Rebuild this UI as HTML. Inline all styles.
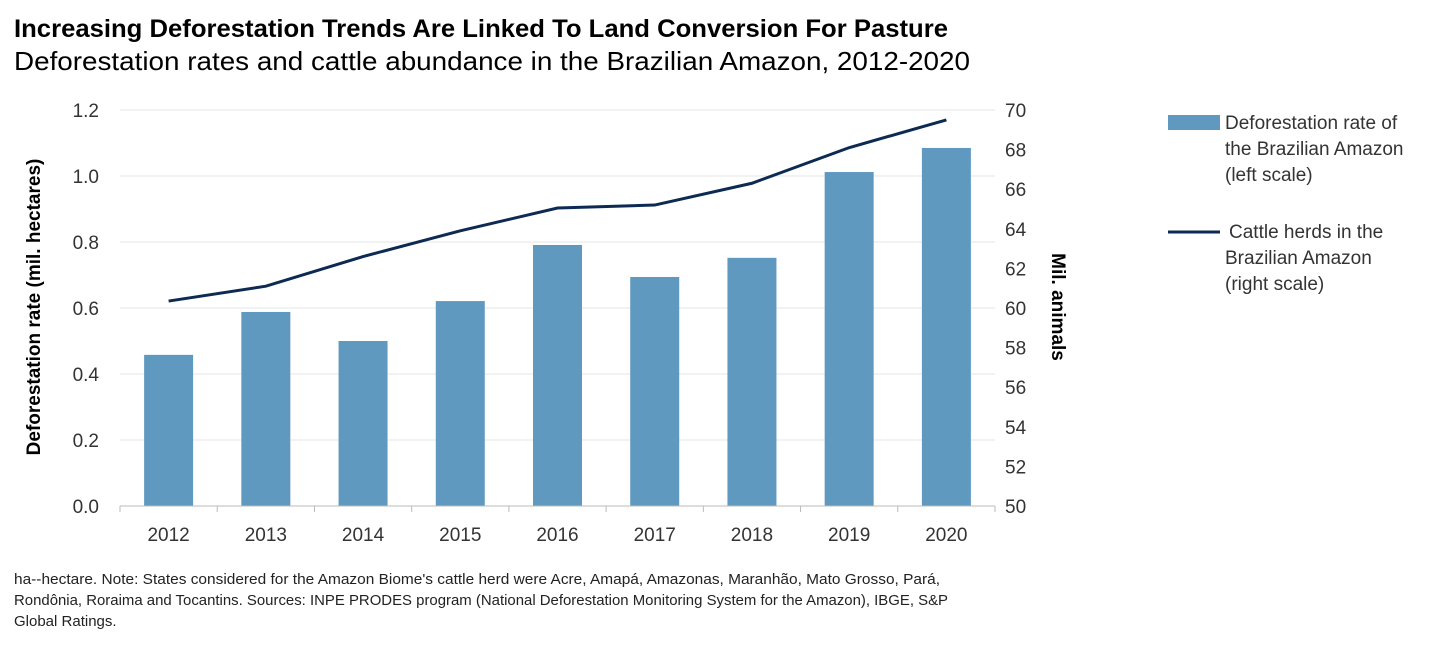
<!DOCTYPE html>
<html><head><meta charset="utf-8"><style>
body{margin:0;background:#fff;font-family:"Liberation Sans",sans-serif;}
svg text{font-family:"Liberation Sans",sans-serif;}
</style></head><body>
<svg id="c" width="1454" height="640" xmlns="http://www.w3.org/2000/svg">
<text x="14" y="37" font-size="25" font-weight="bold" fill="#000" textLength="934" lengthAdjust="spacingAndGlyphs">Increasing Deforestation Trends Are Linked To Land Conversion For Pasture</text>
<text x="14" y="70" font-size="26" fill="#000" textLength="956" lengthAdjust="spacingAndGlyphs">Deforestation rates and cattle abundance in the Brazilian Amazon, 2012-2020</text>
<g id="grid"></g>
<g id="bars"></g>
<g id="line"></g>
<g id="axes"></g>
<text transform="translate(40,307) rotate(-90)" text-anchor="middle" font-size="19" font-weight="bold">Deforestation rate (mil. hectares)</text>
<text transform="translate(1052,307) rotate(90)" text-anchor="middle" font-size="19" font-weight="bold">Mil. animals</text>
<g>
<rect x="1168" y="115" width="52" height="15" fill="#6099c0"/>
<text x="1225" y="129" font-size="19" fill="#333"><tspan x="1225">Deforestation rate of</tspan><tspan x="1225" dy="26">the Brazilian Amazon</tspan><tspan x="1225" dy="26">(left scale)</tspan></text>
<line x1="1168" y1="232" x2="1220" y2="232" stroke="#0d2a52" stroke-width="3"/>
<text x="1225" y="238" font-size="19" fill="#333"><tspan x="1229">Cattle herds in the</tspan><tspan x="1225" dy="26">Brazilian Amazon</tspan><tspan x="1225" dy="26">(right scale)</tspan></text>
</g>
<g font-size="15" fill="#222">
<text x="14" y="584" textLength="926" lengthAdjust="spacingAndGlyphs">ha--hectare. Note: States considered for the Amazon Biome's cattle herd were Acre, Amapá, Amazonas, Maranhão, Mato Grosso, Pará,</text>
<text x="14" y="605" textLength="934" lengthAdjust="spacingAndGlyphs">Rondônia, Roraima and Tocantins. Sources: INPE PRODES program (National Deforestation Monitoring System for the Amazon), IBGE, S&amp;P</text>
<text x="14" y="626">Global Ratings.</text>
</g>
</svg>
<script>
const years=["2012","2013","2014","2015","2016","2017","2018","2019","2020"];
const deforestation=[0.458,0.588,0.50,0.621,0.791,0.694,0.752,1.012,1.085];
const cattle=[60.35,61.1,62.6,63.9,65.05,65.2,66.3,68.1,69.5];
const leftTicks=[0,0.2,0.4,0.6,0.8,1.0,1.2];
const rightTicks=[50,52,54,56,58,60,62,64,66,68,70];
const NS="http://www.w3.org/2000/svg";
const X0=120,X1=995,Y0=506,Y1=110;
const bw=(X1-X0)/years.length;
const xc=i=>X0+bw*(i+0.5);
const yL=v=>Y0-(v-0)/(1.2-0)*(Y0-Y1);
const yR=v=>Y0-(v-50)/(70-50)*(Y0-Y1);
function mk(t,a,p){const e=document.createElementNS(NS,t);for(const k in a)e.setAttribute(k,a[k]);p.appendChild(e);return e;}
const grid=document.getElementById('grid'),bars=document.getElementById('bars'),line=document.getElementById('line'),axes=document.getElementById('axes');
leftTicks.forEach(v=>{
 if(v>0){const g=mk('line',{x1:X0,x2:X1,y1:yL(v),y2:yL(v),stroke:'#e6e6e6','stroke-width':1},grid);
 
 }
 const t=mk('text',{x:99,y:yL(v)+7,'text-anchor':'end','font-size':19,fill:'#333'},axes);t.textContent=v.toFixed(1);
 
 
});
rightTicks.forEach(v=>{
 const t=mk('text',{x:1005,y:yR(v)+7,'font-size':19,fill:'#333'},axes);t.textContent=v;
 
 
});
const ax=mk('line',{x1:X0,x2:X1,y1:Y0,y2:Y0,stroke:'#bbb','stroke-width':1},axes);


years.forEach((y,i)=>{
 const tk=mk('line',{x1:X0+bw*i,x2:X0+bw*i,y1:Y0,y2:Y0+6,stroke:'#bbb'},axes);
 
 
 const t=mk('text',{x:xc(i),y:541,'text-anchor':'middle','font-size':19,fill:'#333'},axes);t.textContent=y;
 
 
 const r=mk('rect',{x:xc(i)-24.5,y:yL(deforestation[i]),width:49,height:Y0-yL(deforestation[i]),fill:'#6099c0'},bars);
 
 
});
const tk2=mk('line',{x1:X1,x2:X1,y1:Y0,y2:Y0+6,stroke:'#bbb'},axes);


const p=mk('polyline',{points:cattle.map((v,i)=>xc(i)+','+yR(v)).join(' '),fill:'none',stroke:'#0d2a52','stroke-width':3},line);


</script>
</body></html>
